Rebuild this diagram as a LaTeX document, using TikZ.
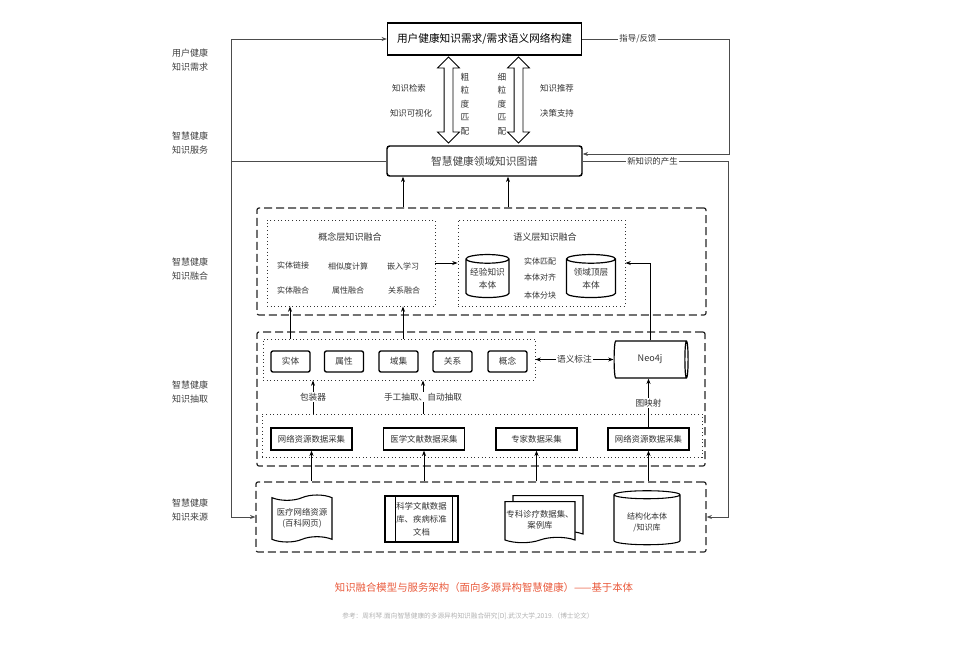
\documentclass[tikz,border=0pt]{standalone}
\usepackage{fontspec}
\setmainfont{Noto Sans CJK SC}
\usetikzlibrary{arrows.meta,shapes.geometric,shapes.symbols,shapes.arrows,calc}

\begin{document}
\begin{tikzpicture}
        [
            x=0.75pt, y=-0.75pt,
            >={Stealth[length=4pt,width=3pt]},
            box/.style={rectangle, draw=black, line width=0.9pt, inner sep=0pt},
            itembox/.style={rectangle, rounded corners=1.5pt, draw=black, line width=1pt, minimum width=29.25pt, minimum height=15.75pt, inner sep=0pt, font=\fontsize{6.5}{8}\selectfont, text=black!80},
            colbox/.style={rectangle, draw=black, line width=0.9pt, minimum width=60.75pt, minimum height=16.5pt, inner sep=0pt, font=\fontsize{6.3}{8}\selectfont, text=black!80},
            dashbox/.style={rectangle, draw=black!85, line width=0.9pt, dash pattern=on 6pt off 3pt, rounded corners=1.5pt, inner sep=0pt},
            dotbox/.style={rectangle, draw=black!80, dotted, line width=0.7pt, inner sep=0pt},
            cyl/.style={cylinder, shape border rotate=90, draw=black, line width=0.9pt, aspect=0.25, inner sep=0pt, align=center, font=\fontsize{6.5}{9.75}\selectfont, text=black!80},
            darr/.style={double arrow, shape border rotate=90, draw=black, line width=0.6pt, minimum height=64.5pt, minimum width=15.75pt, inner sep=3pt, double arrow head extend=4.9pt},
            lbl/.style={font=\fontsize{6.3}{8}\selectfont, text=black!80, align=center, inner sep=1pt},
            side/.style={font=\fontsize{6.75}{10.5}\selectfont, text=black!75, align=center},
            flow/.style={draw=black!70, line width=0.6pt}
        ]
        \useasboundingbox (0,0) rectangle (958,644);
        % service layer
        \node[box, minimum width=145.5pt, minimum height=24pt, font=\fontsize{8}{9}\selectfont] (need) at (484.5,39) {用户健康知识需求/需求语义网络构建};
        \node[box, rounded corners=2pt, line width=1.1pt, minimum width=146.25pt, minimum height=22.5pt, font=\fontsize{8}{9}\selectfont, text=black!75] (kg) at (484.5,161) {智慧健康领域知识图谱};
        \node[darr] (coarse) at (448.5,100) {};
        \node[darr] (fine) at (518.5,100) {};
        \node[lbl, font=\fontsize{6.5}{10.1}\selectfont] (coarsetxt) at (465,104) {粗\\粒\\度\\匹\\配};
        \node[lbl, font=\fontsize{6.5}{10.1}\selectfont] (finetxt) at (502,104) {细\\粒\\度\\匹\\配};
        \node[lbl] (search) at (409,88) {知识检索};
        \node[lbl] (visual) at (411,113) {知识可视化};
        \node[lbl] (recom) at (557,88) {知识推荐};
        \node[lbl] (decide) at (557,113) {决策支持};
        % side labels
        \node[side] (s1) at (190,60) {用户健康\\知识需求};
        \node[side] (s2) at (190,143.5) {智慧健康\\知识服务};
        \node[side] (s3) at (190,269) {智慧健康\\知识融合};
        \node[side] (s4) at (190,392.5) {智慧健康\\知识抽取};
        \node[side] (s5) at (190,510) {智慧健康\\知识来源};
        % fusion layer
        \node[dashbox, minimum width=336.75pt, minimum height=80.25pt] (fusion) at (481.5,261.5) {};
        \node[dotbox, minimum width=126pt, minimum height=64.5pt] (concept) at (351,263) {};
        \node[dotbox, minimum width=125.25pt, minimum height=64.5pt] (semantic) at (541.5,263) {};
        \node[lbl, font=\fontsize{6.8}{8}\selectfont] (ctitle) at (350,237) {概念层知识融合};
        \node[lbl, font=\fontsize{6}{8}\selectfont] (c1) at (293,265) {实体链接};
        \node[lbl, font=\fontsize{6}{8}\selectfont] (c2) at (348,266) {相似度计算};
        \node[lbl, font=\fontsize{6}{8}\selectfont] (c3) at (403,266) {嵌入学习};
        \node[lbl, font=\fontsize{6}{8}\selectfont] (c4) at (293,290) {实体融合};
        \node[lbl, font=\fontsize{6}{8}\selectfont] (c5) at (348,290) {属性融合};
        \node[lbl, font=\fontsize{6}{8}\selectfont] (c6) at (404,290) {关系融合};
        \node[lbl, font=\fontsize{6.8}{8}\selectfont] (stitle) at (545,237) {语义层知识融合};
        \node[cyl, minimum width=32.25pt, minimum height=32.25pt] (expont) at (487.5,278.5) {经验知识\\本体};
        \node[cyl, minimum width=36.75pt, minimum height=32.25pt] (domont) at (591,278.5) {领域顶层\\本体};
        \node[lbl, font=\fontsize{6}{8}\selectfont] (m1) at (540,261) {实体匹配};
        \node[lbl, font=\fontsize{6}{8}\selectfont] (m2) at (540,277) {本体对齐};
        \node[lbl, font=\fontsize{6}{8}\selectfont] (m3) at (540,295) {本体分块};
        \draw[->, line width=0.6pt] (concept.east) -- (semantic.west);
        \draw[->, line width=0.6pt] (403,0 |- fusion.north) -- (403,0 |- kg.south);
        \draw[->, line width=0.6pt] (508,0 |- fusion.north) -- (508,0 |- kg.south);
        % extraction layer
        \node[dashbox, minimum width=336pt, minimum height=100.5pt] (extract) at (481,399) {};
        \node[dotbox, minimum width=204pt, minimum height=30.75pt] (upper) at (399,359.5) {};
        \node[itembox] (entity) at (290.5,361.5) {实体};
        \node[itembox] (attr) at (344,361.5) {属性};
        \node[itembox] (domain) at (398.5,361.5) {域集};
        \node[itembox] (rel) at (452.5,361.5) {关系};
        \node[itembox] (conc) at (507.5,361.5) {概念};
        \node[cylinder, draw=black, line width=0.9pt, aspect=0.35, minimum width=27.75pt, minimum height=55.5pt, inner sep=0pt, font=\fontsize{6.8}{8}\selectfont, text=black!80] (neo) at (650,359.5) {Neo4j};
        \draw[<->, line width=0.6pt] (upper.east) -- node[lbl, fill=white, font=\fontsize{6.5}{8}\selectfont] {语义标注} (neo.west);
        \draw[->, line width=0.6pt] (neo.north) |- (semantic.east);
        \draw[->, line width=0.6pt] (290,0 |- upper.north) -- (290,0 |- concept.south);
        \draw[->, line width=0.6pt] (403,0 |- upper.north) -- (403,0 |- concept.south);
        \node[dotbox, minimum width=330pt, minimum height=32.25pt] (lower) at (482,435.5) {};
        \node[colbox] (col1) at (311.5,439) {网络资源数据采集};
        \node[colbox] (col2) at (424,439) {医学文献数据采集};
        \node[colbox] (col3) at (536.5,439) {专家数据采集};
        \node[colbox] (col4) at (648.5,439) {网络资源数据采集};
        \draw[->, line width=0.6pt] (313,0 |- lower.north) -- node[lbl, fill=white, font=\fontsize{6.5}{8}\selectfont] {包装器} (313,0 |- upper.south);
        \draw[->, line width=0.6pt] (423,0 |- lower.north) -- node[lbl, fill=white, font=\fontsize{6.5}{8}\selectfont] {手工抽取、自动抽取} (423,0 |- upper.south);
        \draw[->, line width=0.6pt] (col4.north) -- node[lbl, fill=white, font=\fontsize{6.5}{8}\selectfont] {图映射} (col4.north |- neo.south);
        % source layer
        \node[dashbox, minimum width=337.5pt, minimum height=52.5pt] (src) at (481,517) {};
        \node[tape, draw=black, line width=0.8pt, tape bend height=4pt, minimum width=45pt, minimum height=35.25pt, inner sep=0pt, align=center, font=\fontsize{6.3}{8.25}\selectfont, text=black!80] (web) at (302,518.5) {医疗网络资源\\(百科网页)};
        \node[box, line width=0.8pt, minimum width=54.75pt, minimum height=34.5pt, align=center, font=\fontsize{6.3}{9.75}\selectfont, text=black!80] (lit) at (421.5,519) {科学文献数据\\库、疾病标准\\文档};
        \draw[line width=0.8pt] ($(lit.north west)+(11,0)$) -- ($(lit.south west)+(11,0)$);
        \draw[line width=0.8pt] ($(lit.north east)+(-6,0)$) -- ($(lit.south east)+(-6,0)$);
        \node[tape, tape bend top=none, draw=black, fill=white, line width=0.8pt, tape bend height=4pt, minimum width=52.5pt, minimum height=30.75pt, inner sep=0pt] (expertbk) at (548,513.5) {};
        \node[tape, tape bend top=none, draw=black, fill=white, line width=0.8pt, tape bend height=4pt, minimum width=52.5pt, minimum height=30.75pt, inner sep=0pt, align=center, font=\fontsize{6.3}{8.25}\selectfont, text=black!80] (expert) at (540,519.5) {专科诊疗数据集、\\案例库};
        \node[cyl, line width=0.8pt, minimum width=49.5pt, minimum height=40.5pt, aspect=0.2, font=\fontsize{6}{8.25}\selectfont] (struct) at (647,520) {\\结构化本体\\/知识库};
        \draw[->, line width=0.6pt] (col1.south |- src.north) -- (col1.south);
        \draw[->, line width=0.6pt] (col2.south |- src.north) -- (col2.south);
        \draw[->, line width=0.6pt] (col3.south |- src.north) -- (col3.south);
        \draw[->, line width=0.6pt] (col4.south |- src.north) -- (col4.south);
        % feedback lines
        \coordinate (lj) at (231,161);
        \draw[flow] (kg.west) -- (lj);
        \draw[flow, ->] (lj) |- (need.west);
        \draw[flow, ->] (lj) |- (src.west);
        \draw[flow, ->] (need.east) -- node[lbl, pos=0.38, fill=white] {指导/反馈} (729,39) -- (729,154) -- (kg.east |- 0,154);
        \draw[flow, ->] (kg.east) -- node[lbl, pos=0.48, fill=white] {新知识的产生} (728,161) -- (728,0 |- src.east) -- (src.east);
        % caption
        \node[font=\fontsize{7.8}{9}\selectfont, text={rgb,255:red,233;green,90;blue,60}] (cap) at (484,588) {知识融合模型与服务架构（面向多源异构智慧健康）——基于本体};
        \node[font=\fontsize{5}{6}\selectfont, text=black!30] (ref) at (468,616) {参考：周利琴.面向智慧健康的多源异构知识融合研究[D].武汉大学,2019.（博士论文）};
    \end{tikzpicture}
\end{document}
